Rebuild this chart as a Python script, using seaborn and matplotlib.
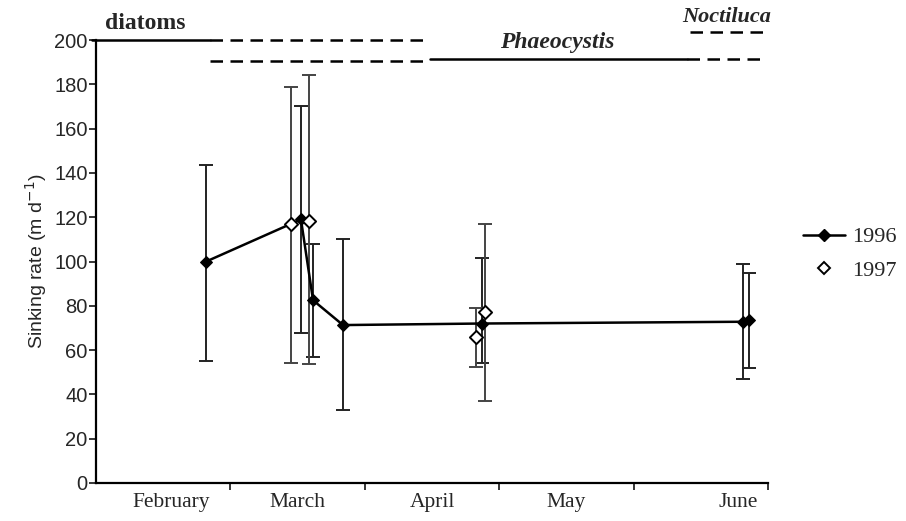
import matplotlib
matplotlib.use("Agg")
import matplotlib.pyplot as plt
from matplotlib.lines import Line2D
import numpy as np
import pandas as pd
import seaborn as sns

# ---- data (x = position in months from 1 February) ----
months = ["February", "March", "April", "May", "June"]
month_label_pos = [0.56, 1.5, 2.5, 3.5, 4.78]

x96 = [0.82, 1.525, 1.615, 1.838, 2.872, 4.814, 4.859]
y96 = [100, 119, 82.5, 71.3, 72, 72.8, 73.5]
lo96 = [55, 67.6, 57, 33, 54, 47, 52]
hi96 = [143.5, 170, 108, 110, 101.5, 99, 95]

x97 = [1.451, 1.585, 2.827, 2.894]
y97 = [117, 118.5, 66, 77]
lo97 = [54, 53.7, 52.5, 37]
hi97 = [179, 184, 79, 117]

yticks = list(range(0, 201, 20))

sns.set_style("ticks")
plt.rcParams["font.family"] = ["Liberation Serif", "DejaVu Serif"]

fig = plt.figure(figsize=(9.06, 5.21), dpi=100)
ax = fig.add_axes([96 / 906, 38 / 521, (768 - 96) / 906, (483 - 40) / 521])

df96 = pd.DataFrame({"x": x96, "y": y96})
df97 = pd.DataFrame({"x": x97, "y": y97})

# error bars
ax.errorbar(x96, y96, yerr=[np.array(y96) - np.array(lo96), np.array(hi96) - np.array(y96)],
            fmt="none", ecolor="#222222", elinewidth=1.4, capsize=5, capthick=1.4, zorder=2)
ax.errorbar(x97, y97, yerr=[np.array(y97) - np.array(lo97), np.array(hi97) - np.array(y97)],
            fmt="none", ecolor="#444444", elinewidth=1.4, capsize=5, capthick=1.4, zorder=2)

sns.lineplot(data=df96, x="x", y="y", ax=ax, color="black", linewidth=1.8,
             marker="D", markersize=6.5, markeredgecolor="black", sort=True,
             estimator=None, zorder=4, legend=False)
sns.scatterplot(data=df97, x="x", y="y", ax=ax, marker="D", s=45,
                facecolor="white", edgecolor="black", linewidth=1.4, zorder=5, legend=False)

ax.set_xlim(0, 5)
ax.set_ylim(0, 200)
ax.set_yticks(yticks)
ax.set_yticklabels([str(v) for v in yticks], family=["Liberation Sans", "DejaVu Sans"], fontsize=14.5)
ax.set_xticks([1, 2, 3, 4, 5])
ax.set_xticklabels([])
ax.set_xticks(month_label_pos, minor=True)
ax.set_xticklabels(months, minor=True, fontsize=15.5)
ax.tick_params(axis="x", which="minor", length=0, pad=7)
ax.tick_params(axis="x", which="major", length=5, width=1.3, direction="out")
ax.tick_params(axis="y", length=5, width=1.3, direction="out", pad=1)
for side in ["top", "right"]:
    ax.spines[side].set_visible(False)
for side in ["left", "bottom"]:
    ax.spines[side].set_linewidth(1.6)
    ax.spines[side].set_color("black")

ax.set_xlabel("")
ax.set_ylabel("Sinking rate (m d$^{-1}$)", family=["Liberation Sans", "DejaVu Sans"],
              fontsize=14, labelpad=4)

# ---- phytoplankton period bars at the top ----
kw = dict(color="black", clip_on=False, linewidth=1.8)
ax.plot([-0.03, 0.848], [200, 200], "-", **kw)
ax.plot([0.848, 2.433], [200, 200], "--", dashes=(5, 3), **kw)
ax.plot([0.848, 2.448], [190.5, 190.5], "--", dashes=(5, 3), **kw)
ax.plot([2.485, 4.397], [191.3, 191.3], "-", **kw)
ax.plot([4.397, 4.955], [191.3, 191.3], "--", dashes=(5, 3), **kw)
ax.plot([4.42, 4.963], [203.7, 203.7], "--", dashes=(5, 3), **kw)
ax.text(0.37, 202.5, "diatoms", ha="center", va="bottom", fontsize=17,
        weight="semibold", clip_on=False)
ax.text(3.43, 194, "Phaeocystis", ha="center", va="bottom", fontsize=17,
        style="italic", weight="bold", clip_on=False)
ax.text(4.695, 206, "Noctiluca", ha="center", va="bottom", fontsize=16,
        style="italic", weight="bold", clip_on=False)

# ---- legend ----
handles = [
    Line2D([], [], color="black", linewidth=1.8, marker="D", markersize=6.5,
           markerfacecolor="black", markeredgecolor="black"),
    Line2D([], [], color="none", marker="D", markersize=6.5,
           markerfacecolor="white", markeredgecolor="black", markeredgewidth=1.4),
]
fig.legend(handles, ["1996", "1997"], loc="center left",
           bbox_to_anchor=(803 / 906, (521 - 254) / 521), frameon=False,
           fontsize=16, handlelength=1.9, handletextpad=0.3, labelspacing=0.6,
           borderpad=0, borderaxespad=0)

fig.savefig("out.png", dpi=100)
